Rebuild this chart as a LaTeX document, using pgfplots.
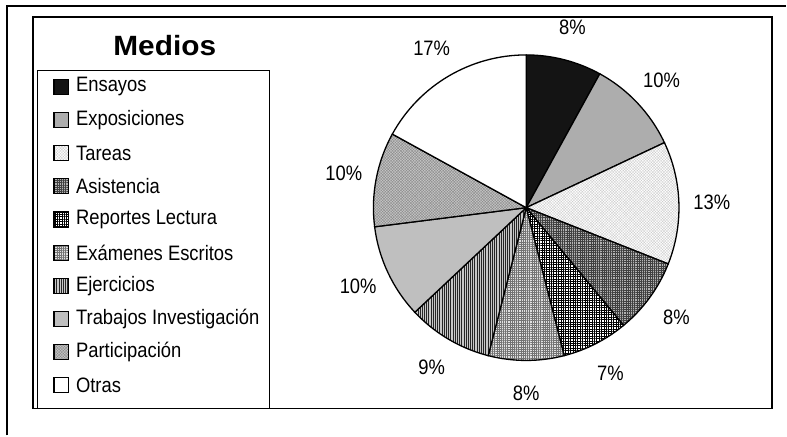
\documentclass[border=0pt]{standalone}
\usepackage{pgfplots}
\pgfplotsset{compat=1.18}
\usepackage{pgfplotstable}
\usetikzlibrary{patterns.meta}
\usepackage{fontspec}
\setmainfont{Liberation Sans}[FakeStretch=0.88]
\newfontfamily\titlefont{Liberation Sans}[FakeStretch=1.07]
\newcommand\lblfont{\fontsize{21}{23}\selectfont}

% porcentaje de cada medio
\pgfplotstableread[col sep=comma]{
name,pct
Ensayos,8
Exposiciones,10
Tareas,13
Asistencia,8
Reportes Lectura,7
Exámenes Escritos,8
Ejercicios,9
Trabajos Investigación,10
Participación,10
Otras,17
}\medios
\pgfplotstablecreatecol[expr accum={\pgfmathaccuma+\thisrow{pct}}{0}]{cum}\medios

\tikzset{
  s0/.style={fill=black!92},
  s1/.style={fill=black!32},
  s2/.style={preaction={fill=white},pattern={Hatch[angle=45,distance=2pt,line width=0.3pt]},pattern color=black!20},
  s3/.style={preaction={fill=black!30},pattern={Hatch[angle=0,distance=2.2pt,line width=0.6pt]},pattern color=black!75},
  s4/.style={preaction={fill=white},pattern={Hatch[angle=0,distance=2.4pt,line width=0.8pt]},pattern color=black},
  s5/.style={preaction={fill=black!12},pattern={Hatch[angle=0,distance=2.2pt,line width=0.45pt]},pattern color=black!55},
  s6/.style={preaction={fill=black!22},pattern={Lines[angle=90,distance=2.2pt,line width=0.9pt]},pattern color=black!85},
  s7/.style={fill=black!25},
  s8/.style={preaction={fill=black!22},pattern={Hatch[angle=45,distance=2pt,line width=0.4pt]},pattern color=black!45},
  s9/.style={fill=white},
}

\begin{document}
\begin{tikzpicture}
\begin{axis}[width=787bp, height=436bp, scale only axis, hide axis,
  xmin=0, xmax=787, ymin=0, ymax=436, y dir=reverse, clip=false]
\path (axis cs:0,0) rectangle (axis cs:787,436);
\draw[line width=2.4bp] (axis cs:7,436) -- (axis cs:7,6) -- (axis cs:787,6);
\draw[line width=1.4bp] (axis cs:33,17) rectangle (axis cs:773,409);
\draw[line width=1bp] (axis cs:38,71) rectangle (axis cs:270,409);
\node[font=\titlefont\bfseries\fontsize{28}{30}\selectfont] at (axis cs:165,46) {Medios};
\pgfplotsinvokeforeach{0,...,9}{
  \pgfplotstablegetelem{#1}{pct}\of\medios \let\pct\pgfplotsretval
  \pgfplotstablegetelem{#1}{cum}\of\medios \let\cum\pgfplotsretval
  \pgfplotstablegetelem{#1}{name}\of\medios \let\nm\pgfplotsretval
  \pgfmathsetmacro\aend{90-3.6*\cum}
  \pgfmathsetmacro\astart{\aend+3.6*\pct}
  \pgfmathsetmacro\amid{\aend+1.8*\pct}
  \pgfmathsetmacro\ly{87+33.2*#1}
  \edef\temp{%
    \noexpand\path[s#1, draw=black, line width=1.3bp] (axis cs:527,208) -- ++(\astart:153bp)
      arc[start angle=\astart, end angle=\aend, radius=153bp] -- cycle;
    \noexpand\path (axis cs:527,208) ++(\amid:186bp) node[font=\noexpand\lblfont] {\pct\noexpand\%};
    \noexpand\path[s#1, draw=black, line width=1.2bp] (axis cs:54,\ly) ++(0,7.5bp) rectangle ++(15bp,-15bp);
    \noexpand\node[anchor=west, font=\noexpand\lblfont, inner sep=0pt] at (axis cs:76,\ly) {\nm};
  }\temp
}
\end{axis}
\end{tikzpicture}
\end{document}
